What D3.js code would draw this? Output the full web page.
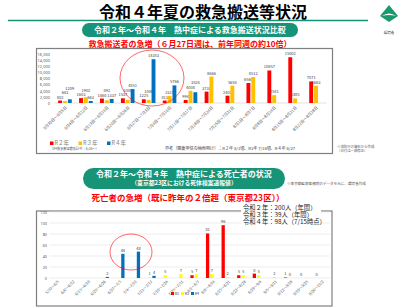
<!DOCTYPE html>
<html>
<head>
<meta charset="utf-8">
<script src="https://cdn.jsdelivr.net/npm/d3@7"></script>
<style>
  body { margin: 0; background: #fff; }
  svg { display: block; font-family: "Noto Sans CJK JP", "Noto Sans", sans-serif; }
</style>
</head>
<body>
<div id="slide"></div>
<script>

// --- data: emergency transports per week (top chart)
var topWeeks = ["5月30日～6月5日", "6月6日～6月12日", "6月13日～6月19日", "6月20日～6月26日",
  "6月27日～7月3日", "7月4日～7月10日", "7月11日～7月17日", "7月18日～7月24日",
  "7月25日～7月31日", "8月1日～8月7日", "8月8日～8月14日", "8月15日～8月21日", "8月22日～8月28日"];
var topR2 = [802, 1603, 1460, 1537, 1225, 813, 994, 3738, 2402, 6560, 10657, 15002, 7071];
var topR3 = [643, 1902, 892, 1000, 1006, 2315, 4008, 8666, 5658, 8512, 2581, 1485, 5663];
var topR4 = [1209, 663, 1337, 4551, 14353, 5766, 3528, null, null, null, null, null, null];
var topTicks = [0, 2000, 4000, 6000, 8000, 10000, 12000, 14000, 16000];

// --- data: heatstroke deaths per week, Tokyo 23 wards (bottom chart)
var botWeeks = ["5/30～6/5", "6/6～6/12", "6/13～6/19", "6/20～6/26", "6/27～7/3", "7/4～7/10",
  "7/11～7/17", "7/18～7/24", "7/25～7/31", "8/1～8/7", "8/8～8/14", "8/15～8/21",
  "8/22～8/28", "8/29～9/4", "9/5～9/11", "9/12～9/18", "9/19～9/25", "9/26～10/2"];
var botR2 = [null, null, null, null, null, null, null, null, null, 5, 81, 96, 5, 8, null, 1, 0, 0];
var botR3 = [null, null, null, null, null, null, 1, 5, 7, 7, 7, 2, 5, 5, 2, 0, null, null];
var botR4 = [null, null, null, 2, 44, 48, 4, null, null, null, null, null, null, null, null, null, null, null];
var botTicks = [0, 20, 40, 60, 80, 100, 120];

var topSeries = [
  {name: "R２年", color: "#ff0000", values: topR2},
  {name: "R３年", color: "#ffc000", values: topR3},
  {name: "R４年", color: "#0070c0", values: topR4}
];
var botSeries = [
  {name: "R2", color: "#ff0000", values: botR2},
  {name: "R3", color: "#ffff00", values: botR3},
  {name: "R4", color: "#0070c0", values: botR4}
];

var teal = "#179478";
var red = "#ff0000";

var svg = d3.select("#slide").append("svg")
  .attr("width", 400)
  .attr("height", 308);

// title + rule
svg.append("text")
  .attr("x", 203).attr("y", 18)
  .attr("text-anchor", "middle")
  .style("font-size", "16px").style("font-weight", "bold")
  .text("令和４年夏の救急搬送等状況");

svg.append("line")
  .attr("x1", 8).attr("x2", 368).attr("y1", 20.5).attr("y2", 20.5)
  .style("stroke", teal).style("stroke-width", 1.5);

// logo
var logo = svg.append("g").attr("transform", "translate(389,14)");
logo.append("path")
  .attr("d", "M-9,2 L0,-9 L9,2 L0,8 Z")
  .style("fill", "#1a9a6c");
logo.append("path")
  .attr("d", "M-7,2 Q0,-3 7,2 Q0,0 -7,2 Z")
  .style("fill", "#fff");
logo.append("text")
  .attr("x", 0).attr("y", 20)
  .attr("text-anchor", "middle")
  .style("font-size", "3.5px").style("fill", "#333")
  .text("環境省");

function pill(x, y, w, h) {
  svg.append("rect")
    .attr("x", x).attr("y", y).attr("width", w).attr("height", h)
    .attr("rx", h / 2)
    .style("fill", teal);
}

// ----- section 1 header
pill(82, 23, 216, 14);
svg.append("text")
  .attr("x", 190).attr("y", 33)
  .attr("text-anchor", "middle")
  .style("font-size", "8px").style("font-weight", "bold").style("fill", "#fff")
  .text("令和２年～令和４年　熱中症による救急搬送状況比較");

svg.append("text")
  .attr("x", 190).attr("y", 47)
  .attr("text-anchor", "middle")
  .style("font-size", "8px").style("font-weight", "bold").style("fill", red)
  .text("救急搬送者の急増（６月27日週は、前年同週の約10倍）");

// ----- top chart
svg.append("rect")
  .attr("x", 36.5).attr("y", 48.5).attr("width", 296).attr("height", 105)
  .style("fill", "none").style("stroke", "#7f7f7f").style("stroke-width", 1.2);

var tx = d3.scaleBand().domain(topWeeks).range([54.5, 326.5]);
var ty = d3.scaleLinear().domain([0, 16000]).range([103, 54.2]);
var tsub = d3.scaleBand().domain([0, 1, 2]).range([-6.8, 6.8]).paddingInner(0.2);

var tAxis = svg.append("g").attr("transform", "translate(51,0)")
  .call(d3.axisLeft(ty).tickValues(topTicks).tickSize(0).tickPadding(1));
tAxis.select(".domain").remove();
tAxis.selectAll("text").style("font-size", "4px").style("fill", "#595959").style("font-family", "Noto Sans");

svg.append("line")
  .attr("x1", 54.5).attr("x2", 326.5).attr("y1", ty(0)).attr("y2", ty(0))
  .style("stroke", "#d9d9d9").style("stroke-width", 0.8);

// bar labels of small neighbouring bars are lifted so they do not collide
var lastLabelY = topWeeks.map(function() { return null; });

topSeries.forEach(function(s, si) {
  var pts = s.values.map(function(v, i) { return {v: v, cat: topWeeks[i], i: i}; })
    .filter(function(d) { return d.v != null; });
  pts.forEach(function(d) {
    var y = ty(d.v) - 2;
    var prev = lastLabelY[d.i];
    if (prev != null && Math.abs(y - prev) < 4.4) {
      y = (si == 1) ? prev + 4.4 : prev - 4.4;
      if (y > ty(d.v) - 1.5) y = prev - 4.4;
    }
    d.ly = y;
    lastLabelY[d.i] = y;
  });
  var g = svg.append("g");
  g.selectAll("rect").data(pts).enter().append("rect")
    .attr("x", function(d) { return tx(d.cat) + tx.bandwidth() / 2 + tsub(si); })
    .attr("width", tsub.bandwidth())
    .attr("y", function(d) { return ty(d.v); })
    .attr("height", function(d) { return ty(0) - ty(d.v); })
    .style("fill", s.color);
  g.selectAll("text").data(pts).enter().append("text")
    .attr("x", function(d) { return tx(d.cat) + tx.bandwidth() / 2 + tsub(si) + tsub.bandwidth() / 2; })
    .attr("y", function(d) { return d.ly; })
    .attr("text-anchor", "middle")
    .style("font-size", "4px").style("fill", "#404040")
    .text(function(d) { return d.v; });
});

svg.append("g").selectAll("text").data(topWeeks).enter().append("text")
  .attr("transform", function(d) { return "translate(" + (tx(d) + tx.bandwidth() / 2 + 2) + ",108) rotate(-45)"; })
  .attr("text-anchor", "end")
  .style("font-size", "4px").style("fill", "#595959")
  .text(function(d) { return d; });

svg.append("ellipse")
  .attr("cx", 152).attr("cy", 78).attr("rx", 32).attr("ry", 28)
  .style("fill", "none").style("stroke", red).style("stroke-width", 0.6);

// legend top
var tLeg = svg.append("g").selectAll("g").data(topSeries).enter().append("g")
  .attr("transform", function(d, i) { return "translate(" + (50 + i * 28.5) + ",145)"; });
tLeg.append("rect").attr("x", 0).attr("y", -3.5).attr("width", 3.5).attr("height", 3.5)
  .style("fill", function(d) { return d.color; });
tLeg.append("text").attr("x", 4.5).attr("y", 0)
  .style("font-size", "5.5px").style("fill", "#7f7f7f")
  .text(function(d) { return d.name; });
svg.append("text")
  .attr("x", 50).attr("y", 150)
  .style("font-size", "3.2px").style("fill", "#595959")
  .text("（R4救急搬送数集計中：6/26～）");

svg.append("text")
  .attr("x", 165).attr("y", 149.5)
  .style("font-size", "4.1px").style("fill", "#404040")
  .text("参考（関東甲信の梅雨明け）：R２年 8/1頃、R3年 7/16頃、R４年 6/27");

svg.append("text")
  .attr("x", 337).attr("y", 147.5)
  .style("font-size", "3.4px").style("fill", "#595959")
  .text("※消防庁の資料から作成");
svg.append("text")
  .attr("x", 337).attr("y", 152)
  .style("font-size", "3.4px").style("fill", "#595959")
  .text("（日付は一部修正）");

// ----- section 2 header
pill(83, 168, 202, 21);
svg.append("text")
  .attr("x", 184).attr("y", 177)
  .attr("text-anchor", "middle")
  .style("font-size", "8px").style("font-weight", "bold").style("fill", "#fff")
  .text("令和２年～令和４年　熱中症による死亡者の状況");
svg.append("text")
  .attr("x", 184).attr("y", 185)
  .attr("text-anchor", "middle")
  .style("font-size", "5.8px").style("font-weight", "bold").style("fill", "#fff")
  .text("（東京都23区における死体検案速報値）");

svg.append("text")
  .attr("x", 287).attr("y", 184.5)
  .style("font-size", "3.6px").style("fill", "#595959")
  .text("※東京都監察医務院のデータを元に、環境省作成");

svg.append("text")
  .attr("x", 188).attr("y", 200.5)
  .attr("text-anchor", "middle")
  .style("font-size", "8.5px").style("font-weight", "bold").style("fill", red)
  .text("死亡者の急増（既に昨年の２倍超（東京都23区））");

// ----- bottom chart
svg.append("rect")
  .attr("x", 36.5).attr("y", 211).attr("width", 295.5).attr("height", 95)
  .style("fill", "none").style("stroke", "#7f7f7f").style("stroke-width", 1.2);

var bx = d3.scaleBand().domain(botWeeks).range([49.4, 329.8]);
var by = d3.scaleLinear().domain([0, 120]).range([278, 212]);
var bsub = d3.scaleBand().domain([0, 1, 2]).range([-5.5, 6.5]).paddingInner(0.25);

var bAxis = svg.append("g").attr("transform", "translate(48,0)")
  .call(d3.axisLeft(by).tickValues(botTicks).tickSize(0).tickPadding(1));
bAxis.select(".domain").remove();
bAxis.selectAll("text").style("font-size", "3.8px").style("fill", "#595959").style("font-family", "Noto Sans");

svg.append("g").selectAll("line").data(botTicks).enter().append("line")
  .attr("x1", 49.4).attr("x2", 329.8)
  .attr("y1", function(d) { return by(d); }).attr("y2", function(d) { return by(d); })
  .style("stroke", "#e0e0e0").style("stroke-width", 0.6);

botSeries.forEach(function(s, si) {
  var pts = s.values.map(function(v, i) { return {v: v, cat: botWeeks[i]}; })
    .filter(function(d) { return d.v != null; });
  var g = svg.append("g");
  g.selectAll("rect").data(pts).enter().append("rect")
    .attr("x", function(d) { return bx(d.cat) + bx.bandwidth() / 2 + bsub(si) - 1.5; })
    .attr("width", bsub.bandwidth())
    .attr("y", function(d) { return by(d.v); })
    .attr("height", function(d) { return by(0) - by(d.v); })
    .style("fill", s.color);
  g.selectAll("text").data(pts).enter().append("text")
    .attr("x", function(d) { return bx(d.cat) + bx.bandwidth() / 2 + bsub(si) - 1.5 + bsub.bandwidth() / 2; })
    .attr("y", function(d) { return by(d.v) - 2; })
    .attr("text-anchor", "middle")
    .style("font-size", "4px").style("fill", "#404040")
    .text(function(d) { return d.v; });
});

svg.append("g").selectAll("text").data(botWeeks).enter().append("text")
  .attr("transform", function(d) { return "translate(" + (bx(d) + bx.bandwidth() / 2 + 2) + ",282) rotate(-45)"; })
  .attr("text-anchor", "end")
  .style("font-size", "3.8px").style("fill", "#595959")
  .text(function(d) { return d; });

svg.append("ellipse")
  .attr("cx", 131).attr("cy", 252).attr("rx", 21).attr("ry", 18)
  .style("fill", "none").style("stroke", red).style("stroke-width", 0.6);

// legend bottom
var bLeg = svg.append("g").selectAll("g").data(botSeries).enter().append("g")
  .attr("transform", function(d, i) { return "translate(" + (171 + i * 10) + ",295)"; });
bLeg.append("rect").attr("x", 0).attr("y", -3).attr("width", 3).attr("height", 3)
  .style("fill", function(d) { return d.color; });
bLeg.append("text").attr("x", 3.8).attr("y", 0)
  .style("font-size", "3.6px").style("fill", "#404040")
  .text(function(d) { return d.name; });

// annotation with annual totals
var notes = ["令和２年：200人（年間）", "令和３年：39人（年間）", "令和４年：98人（7/15時点）"];
svg.append("rect")
  .attr("x", 241).attr("y", 204).attr("width", 80).attr("height", 22)
  .style("fill", "#fff");
svg.append("g").selectAll("text").data(notes).enter().append("text")
  .attr("x", 243).attr("y", function(d, i) { return 210 + i * 7.2; })
  .style("font-size", "6.3px").style("fill", "#222")
  .text(function(d) { return d; });

</script>
</body>
</html>
